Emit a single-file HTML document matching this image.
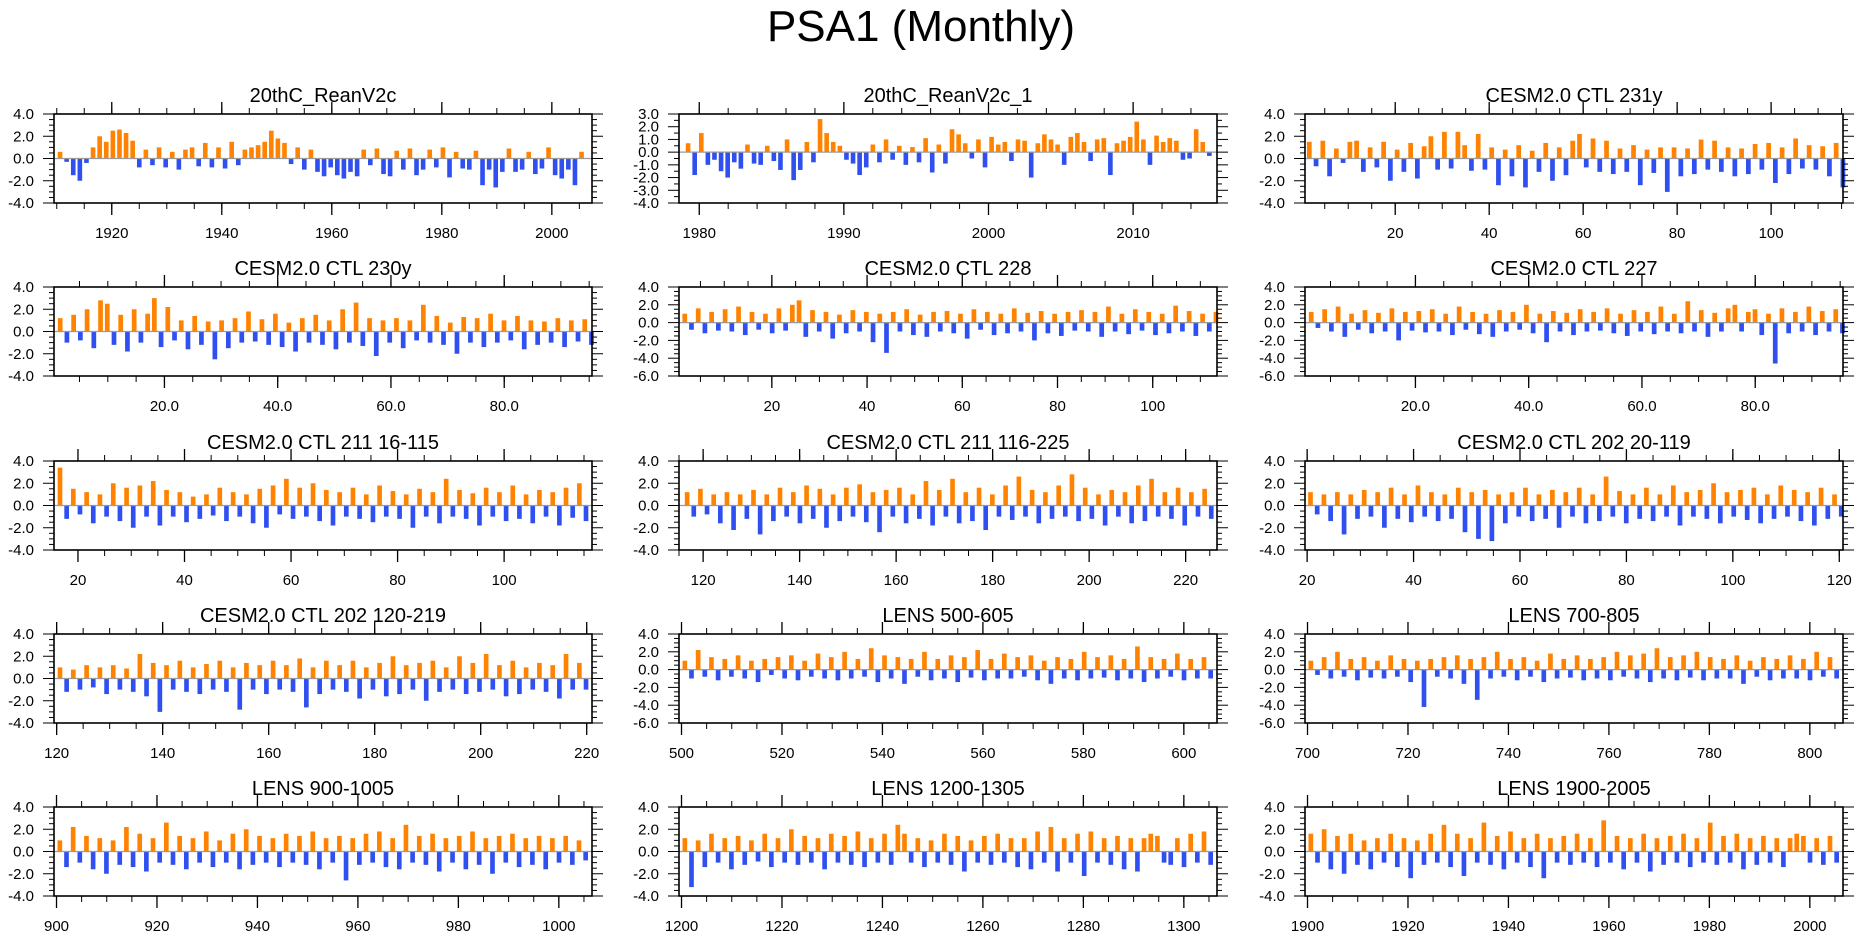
<!DOCTYPE html>
<html><head><meta charset="utf-8"><title>PSA1 (Monthly)</title>
<style>
html,body{margin:0;padding:0;background:#fff;}
svg{display:block;font-family:"Liberation Sans",Arial,sans-serif;}
</style></head>
<body>
<svg id="fig" width="1861" height="937" viewBox="0 0 1861 937" xmlns="http://www.w3.org/2000/svg">
<rect x="0" y="0" width="1861" height="937" fill="#fff"/>
<text x="921" y="41" font-size="44" text-anchor="middle" fill="#000">PSA1 (Monthly)</text>
</svg>
<script>
const titles = ["20thC_ReanV2c","20thC_ReanV2c_1","CESM2.0 CTL 231y","CESM2.0 CTL 230y","CESM2.0 CTL 228","CESM2.0 CTL 227","CESM2.0 CTL 211 16-115","CESM2.0 CTL 211 116-225","CESM2.0 CTL 202 20-119","CESM2.0 CTL 202 120-219","LENS 500-605","LENS 700-805","LENS 900-1005","LENS 1200-1305","LENS 1900-2005"];
const dataStart = [1910,1979,1,1,1,1,16,116,20,120,500,700,900,1200,1900];
const dataEnd   = [2006,2015.5,116,96,114,96,116,226,121,220.5,606,806,1006,1306,2006];
const xTickMajor = [[1920,1940,1960,1980,2000],[1980,1990,2000,2010],[20,40,60,80,100],[20,40,60,80],[20,40,60,80,100],[20,40,60,80],[20,40,60,80,100],[120,140,160,180,200,220],[20,40,60,80,100,120],[120,140,160,180,200,220],[500,520,540,560,580,600],[700,720,740,760,780,800],[900,920,940,960,980,1000],[1200,1220,1240,1260,1280,1300],[1900,1920,1940,1960,1980,2000]];
const xTickLabels = [["1920","1940","1960","1980","2000"],["1980","1990","2000","2010"],["20","40","60","80","100"],["20.0","40.0","60.0","80.0"],["20","40","60","80","100"],["20.0","40.0","60.0","80.0"],["20","40","60","80","100"],["120","140","160","180","200","220"],["20","40","60","80","100","120"],["120","140","160","180","200","220"],["500","520","540","560","580","600"],["700","720","740","760","780","800"],["900","920","940","960","980","1000"],["1200","1220","1240","1260","1280","1300"],["1900","1920","1940","1960","1980","2000"]];
const yMin = [-4,-4,-4,-4,-6,-6,-4,-4,-4,-4,-6,-6,-4,-4,-4];
const yMax = [4,3,4,4,4,4,4,4,4,4,4,4,4,4,4];
const yStep = [2,1,2,2,2,2,2,2,2,2,2,2,2,2,2];

const v1=[0.6,-0.3,-1.5,-2.0,-0.4,1.0,2.0,1.5,2.5,2.6,2.3,1.6,-0.8,0.8,-0.6,1.0,-0.8,0.6,-1.0,0.8,1.0,-0.7,1.4,-0.8,1.0,-0.9,1.5,-0.6,0.8,1.0,1.2,1.5,2.5,1.8,1.4,-0.5,1.0,-1.0,0.8,-1.2,-1.6,-0.8,-1.5,-1.8,-1.2,-1.6,0.8,-0.6,0.9,-1.4,-1.6,0.7,-1.0,0.9,-1.5,-1.0,0.8,-0.8,1.0,-1.7,0.6,-0.9,-1.0,0.7,-2.4,-1.0,-2.6,-1.2,0.9,-1.2,-1.0,0.6,-1.4,-0.9,1.0,-1.5,-1.8,-1.0,-2.4,0.6];
const v2=[0.7,-1.8,1.5,-1.0,-0.6,-1.5,-2.0,-0.8,-1.3,0.6,-0.9,-1.0,0.5,-0.7,-1.4,1.0,-2.2,-1.4,0.8,-0.8,2.6,1.5,0.8,0.5,-0.6,-0.9,-1.8,-1.2,0.6,-0.8,1.0,-0.6,0.5,-1.0,0.4,-0.8,1.1,-1.6,0.6,-0.9,1.8,1.4,0.7,-0.5,1.0,-1.2,1.2,0.6,0.8,-0.7,1.0,0.9,-2.0,0.7,1.4,1.0,0.6,-1.0,1.2,1.5,0.8,-0.7,1.0,1.1,-1.8,0.7,0.9,1.2,2.4,1.0,-1.0,1.3,0.8,1.1,0.9,-0.6,-0.5,1.8,0.8,-0.3];
const v3=[1.5,-0.7,1.6,-1.6,0.9,-0.4,1.5,1.6,-1.2,1.0,-0.8,1.5,-2.0,0.8,-1.2,1.4,-1.8,1.1,2.0,-1.0,2.4,-0.9,2.4,1.2,-1.1,2.2,-1.0,1.0,-2.4,0.8,-1.6,1.2,-2.6,0.7,-1.2,1.4,-2.0,1.0,-1.5,1.6,2.2,-0.8,1.8,-1.2,1.6,-1.4,0.9,-1.2,1.2,-2.4,0.8,-1.3,1.0,-3.0,1.0,-1.6,0.9,-1.4,1.7,-1.0,1.6,-1.2,1.0,-1.6,0.9,-1.4,1.3,-1.0,1.4,-2.2,1.0,-1.4,1.8,-0.9,1.2,-1.0,1.1,-1.6,1.4,-2.6];
const v4=[1.2,-1.0,1.5,-0.8,2.0,-1.5,2.8,2.5,-1.2,1.5,-1.8,2.0,-1.0,1.6,3.0,-1.4,2.2,-0.8,1.0,-1.6,1.4,-1.2,0.9,-2.5,1.0,-1.5,1.2,-1.0,1.8,-0.9,1.1,-1.2,1.6,-1.4,0.8,-1.8,1.2,-1.0,1.5,-1.2,1.0,-1.6,2.0,-1.0,2.6,-1.3,1.2,-2.2,1.0,-1.0,1.2,-1.5,1.0,-0.8,2.4,-1.0,1.4,-1.2,0.8,-2.0,1.3,-1.0,1.2,-1.4,1.6,-1.0,1.0,-0.8,1.4,-1.6,1.0,-1.2,0.9,-1.0,1.2,-1.4,1.0,-0.9,1.1,-1.2];
const v5=[1.0,-0.8,1.6,-1.2,1.2,-0.9,1.5,-1.0,1.8,-1.4,1.2,-0.8,1.0,-1.2,1.6,-0.9,2.0,2.5,-1.6,1.4,-1.0,1.2,-1.8,0.9,-1.2,1.4,-1.0,1.2,-2.2,1.0,-3.4,1.2,-1.0,1.5,-1.4,0.9,-1.6,1.2,-1.0,1.3,-1.2,1.0,-1.8,1.5,-0.8,1.2,-1.4,1.0,-1.2,1.6,-1.0,1.1,-2.0,1.3,-1.2,1.0,-1.5,1.2,-0.9,1.4,-1.0,1.2,-1.6,1.8,-1.0,1.0,-1.3,1.5,-0.9,1.2,-1.4,1.0,-1.2,1.9,-1.0,1.3,-1.5,1.0,-1.0,1.2];
const v6=[1.2,-0.6,1.5,-1.0,1.8,-1.6,1.0,-0.8,1.4,-1.2,1.1,-1.0,1.6,-2.0,1.2,-0.9,1.3,-1.1,1.5,-1.0,1.0,-1.4,1.8,-0.8,1.2,-1.3,1.0,-1.6,1.4,-1.0,1.2,-0.8,2.0,-1.2,1.0,-2.2,1.3,-1.0,1.1,-1.4,1.5,-1.0,1.2,-0.9,1.6,-1.2,1.0,-1.5,1.4,-1.0,1.2,-1.3,1.8,-1.0,1.0,-1.2,2.4,-1.0,1.4,-1.6,1.1,-1.0,1.6,2.0,-1.0,1.2,1.5,-1.4,1.0,-4.6,1.6,-1.2,1.2,-1.0,1.8,-1.4,1.3,-1.0,1.5,-1.2];
const v7=[3.4,-1.2,1.5,-0.8,1.2,-1.6,1.0,-1.0,2.0,-1.4,1.6,-2.0,1.8,-1.0,2.2,-1.8,1.4,-1.0,1.2,-1.5,0.8,-1.2,1.0,-0.9,1.6,-1.4,1.2,-1.0,1.0,-1.6,1.5,-2.0,1.8,-0.8,2.4,-1.2,1.6,-1.0,2.0,-1.4,1.4,-1.8,1.2,-1.0,1.6,-1.2,1.0,-1.5,1.8,-1.0,1.3,-1.2,1.0,-2.0,1.5,-1.0,1.2,-1.6,2.4,-1.0,1.4,-1.2,1.1,-1.8,1.6,-1.0,1.2,-1.4,1.8,-1.2,1.0,-1.6,1.4,-1.0,1.2,-1.8,1.6,-1.1,2.0,-1.4];
const v8=[1.2,-1.0,1.5,-0.8,1.0,-1.6,1.2,-2.2,1.0,-1.2,1.4,-2.6,1.0,-1.4,1.6,-1.0,1.2,-1.6,1.8,-1.2,1.5,-2.0,1.0,-1.4,1.6,-1.0,1.9,-1.5,1.2,-2.4,1.4,-1.0,1.6,-1.6,1.0,-1.2,2.2,-1.8,1.4,-1.0,2.4,-1.6,1.2,-1.4,1.6,-2.2,1.0,-1.0,1.8,-1.3,2.6,-1.0,1.4,-1.6,1.2,-1.2,1.8,-1.0,2.8,-1.4,1.6,-1.2,1.0,-1.8,1.4,-1.0,1.2,-1.6,1.8,-1.4,2.4,-1.0,1.2,-1.2,1.6,-1.8,1.2,-1.0,1.5,-1.2];
const v9=[1.2,-0.8,1.0,-1.4,1.2,-2.6,1.0,-1.2,1.4,-1.0,1.2,-2.0,1.6,-1.2,1.0,-1.5,1.8,-1.0,1.2,-1.4,1.0,-1.2,1.6,-2.4,1.2,-3.0,1.4,-3.2,1.0,-1.6,1.2,-1.0,1.6,-1.4,1.0,-1.2,1.4,-2.0,1.2,-1.0,1.6,-1.6,1.0,-1.4,2.6,-1.0,1.3,-1.6,1.0,-1.2,1.6,-1.4,1.0,-1.0,1.8,-1.8,1.2,-1.0,1.4,-1.2,2.0,-1.6,1.2,-1.0,1.4,-1.3,1.6,-1.6,1.0,-1.2,1.8,-1.0,1.4,-1.4,1.2,-1.8,1.6,-1.2,1.0,-1.0];
const v10=[1.0,-1.2,0.8,-1.0,1.2,-0.8,1.0,-1.4,1.2,-1.0,0.9,-1.2,2.2,-1.6,1.4,-3.0,1.2,-1.0,1.6,-1.2,1.0,-1.4,1.3,-1.0,1.6,-1.2,1.0,-2.8,1.4,-1.0,1.2,-1.4,1.6,-1.0,1.2,-1.2,1.8,-2.6,1.0,-1.4,1.6,-1.0,1.2,-1.2,1.6,-1.8,1.0,-1.0,1.4,-1.6,2.0,-1.4,1.2,-1.0,1.4,-2.0,1.6,-1.2,1.0,-1.0,2.0,-1.4,1.4,-1.2,2.2,-1.0,1.2,-1.6,1.6,-1.4,1.0,-1.0,1.4,-1.2,1.2,-1.8,2.2,-1.0,1.4,-1.0];
const v11=[1.0,-1.0,2.2,-0.8,1.4,-1.2,1.2,-0.8,1.6,-1.0,1.0,-1.4,1.2,-0.6,1.4,-1.0,1.6,-1.2,1.0,-0.8,1.8,-1.0,1.4,-1.2,2.0,-1.0,1.2,-0.8,2.4,-1.4,1.6,-1.0,1.4,-1.6,1.2,-0.8,2.0,-1.2,1.2,-1.0,1.6,-1.4,1.4,-0.9,2.2,-1.2,1.2,-1.0,1.8,-1.0,1.4,-0.8,1.6,-1.2,1.0,-1.6,1.4,-1.0,1.2,-1.2,2.0,-1.0,1.4,-0.9,1.6,-1.2,1.2,-1.0,2.6,-1.4,1.4,-1.0,1.2,-0.8,1.8,-1.2,1.2,-1.0,1.4,-1.0];
const v12=[1.0,-0.6,1.4,-1.0,2.0,-0.8,1.2,-1.2,1.4,-0.9,1.0,-1.0,1.6,-0.8,1.2,-1.4,1.0,-4.2,1.2,-0.8,1.4,-1.0,1.6,-1.6,1.2,-3.4,1.4,-1.0,2.0,-0.8,1.2,-1.2,1.4,-0.8,1.0,-1.4,1.8,-1.0,1.2,-0.9,1.6,-1.2,1.2,-1.0,1.4,-1.2,2.0,-0.8,1.6,-1.0,1.8,-1.4,2.4,-1.0,1.4,-1.2,1.6,-0.9,2.0,-1.2,1.4,-1.0,1.2,-1.0,1.6,-1.6,1.0,-0.8,1.4,-1.2,1.2,-1.0,1.6,-1.0,1.2,-1.2,2.0,-0.8,1.4,-1.0];
const v13=[1.0,-1.4,2.2,-1.0,1.4,-1.6,1.2,-2.0,1.0,-1.2,2.2,-1.4,1.6,-1.8,1.2,-1.0,2.6,-1.2,1.4,-1.6,1.2,-1.0,1.8,-1.4,1.0,-1.0,1.6,-1.6,2.0,-1.2,1.4,-1.0,1.2,-1.4,1.6,-1.0,1.4,-1.2,1.8,-1.6,1.2,-1.0,1.4,-2.6,1.2,-1.2,1.6,-1.0,1.8,-1.4,1.2,-1.6,2.4,-1.0,1.4,-1.2,1.6,-1.8,1.2,-1.0,1.4,-1.6,1.8,-1.2,1.2,-2.0,1.4,-1.0,1.6,-1.4,1.2,-1.2,1.4,-1.6,1.2,-1.0,1.4,-1.2,1.0,-0.8];
const v14=[1.2,-3.2,1.0,-1.4,1.6,-1.0,1.2,-1.6,1.4,-1.2,1.0,-0.9,1.6,-1.4,1.2,-1.0,2.0,-1.2,1.4,-1.0,1.2,-1.6,1.6,-1.0,1.4,-1.2,1.8,-1.4,1.2,-1.0,1.6,-1.2,2.4,1.6,-1.0,1.2,-1.4,1.0,-1.0,1.6,-1.2,1.4,-1.8,1.0,-1.0,1.4,-1.2,1.6,-1.0,1.2,-1.4,1.2,-1.6,1.8,-1.0,2.2,-1.8,1.2,-1.0,1.6,-2.2,1.8,-1.0,1.2,-1.2,1.4,-1.6,1.2,-1.8,1.2,1.6,1.4,-1.0,-1.2,1.2,-1.4,1.6,-1.0,1.8,-1.2];
const v15=[1.6,-1.0,2.0,-1.6,1.4,-2.0,1.6,-1.2,1.0,-1.6,1.2,-1.0,1.6,-1.4,1.2,-2.4,1.0,-1.2,1.6,-1.0,2.4,-1.4,1.6,-2.2,1.2,-1.0,2.6,-1.2,1.4,-1.6,1.8,-1.0,1.2,-1.4,1.6,-2.4,1.2,-1.0,1.4,-1.2,1.6,-1.0,1.2,-1.4,2.8,-1.0,1.4,-1.6,1.2,-1.0,1.6,-1.8,1.2,-1.2,1.4,-1.0,1.6,-1.4,1.2,-1.0,2.6,-1.2,1.4,-1.0,1.6,-1.6,1.2,-1.2,1.4,-1.0,1.2,-1.4,1.2,1.6,1.4,-1.0,1.2,-1.2,1.4,-1.0];
const seriesValues=[v1,v2,v3,v4,v5,v6,v7,v8,v9,v10,v11,v12,v13,v14,v15];

// layout (not data)
const colLeft=[54,679,1305], boxW=538, rowTop=[114,287,461,634,807], boxH=89;
const axisMin=[1909.5,1978.6,0.8,0.5,0.5,0.5,15.5,115,19.6,119.5,499.5,699.5,899.5,1199.5,1899.5];
const axisMax=[2007.3,2015.8,115.3,95.5,113.5,95.5,116.5,226.5,120.7,221,606.6,806.6,1006.6,1306.6,2006.6];
const minorStep=[5,2,5,5,5,5,5,5,5,5,5,5,5,5,5];

const NS="http://www.w3.org/2000/svg";
const svg=document.getElementById('fig');
function mk(tag,attrs,parent){const e=document.createElementNS(NS,tag);for(const k in attrs)e.setAttribute(k,attrs[k]);(parent||svg).appendChild(e);return e;}

for(let p=0;p<15;p++){
  const L=colLeft[p%3], T=rowTop[Math.floor(p/3)], R=L+boxW, B=T+boxH;
  const g=mk('g',{});
  
  
  const xs=v=>L+(v-axisMin[p])/(axisMax[p]-axisMin[p])*boxW;
  const ys=v=>B-(v-yMin[p])/(yMax[p]-yMin[p])*boxH;
  const t=mk('text',{x:(L+R)/2,y:T-12,'font-size':20,'text-anchor':'middle',fill:'#000'},g);
  t.textContent=titles[p];
  
  
  const vals=seriesValues[p], n=vals.length;
  const dx=(dataEnd[p]-dataStart[p])/n;
  const bw=Math.max(1.5,(xs(dataStart[p]+dx)-xs(dataStart[p]))*0.7);
  const bars=mk('g',{},g);
  
  
  for(let i=0;i<n;i++){
    const v=vals[i], cx=xs(dataStart[p]+(i+0.5)*dx), y0=ys(0), y1=ys(v);
    const r=mk('rect',{x:(cx-bw/2).toFixed(2),y:Math.min(y0,y1).toFixed(2),width:bw.toFixed(2),height:Math.abs(y1-y0).toFixed(2),fill:v>=0?'#ff8300':'#2f4ff0'},bars);
    
    
  }
  const z=mk('line',{x1:L,x2:R,y1:ys(0),y2:ys(0),stroke:'#9a9a9a','stroke-width':1.2},g);
  
  
  for(let v=yMin[p];v<=yMax[p]+1e-9;v+=0.5){
    const y=ys(v), major=Math.abs(v/yStep[p]-Math.round(v/yStep[p]))<1e-6;
    const len=major?11:5;
    mk('line',{x1:L-len,x2:L,y1:y,y2:y,stroke:'#000','stroke-width':1},g);
    mk('line',{x1:R,x2:R+len,y1:y,y2:y,stroke:'#000','stroke-width':1},g);
    if(major){
      const lb=mk('text',{x:L-20,y:y+5,'font-size':15,'text-anchor':'end',fill:'#000'},g);
      lb.textContent=v.toFixed(1);
      
      
    }
  }
  const ms=minorStep[p];
  for(let v=Math.ceil(axisMin[p]/ms)*ms;v<=axisMax[p];v+=ms){
    const x=xs(v);
    mk('line',{x1:x,x2:x,y1:B,y2:B+6,stroke:'#000','stroke-width':1},g);
    mk('line',{x1:x,x2:x,y1:T-6,y2:T,stroke:'#000','stroke-width':1},g);
  }
  xTickMajor[p].forEach((v,i)=>{
    const x=xs(v);
    mk('line',{x1:x,x2:x,y1:B,y2:B+12,stroke:'#000','stroke-width':1.3},g);
    mk('line',{x1:x,x2:x,y1:T-12,y2:T,stroke:'#000','stroke-width':1.3},g);
    const lb=mk('text',{x:x,y:B+35,'font-size':15,'text-anchor':'middle',fill:'#000'},g);
    lb.textContent=xTickLabels[p][i];
    
    
  });
  const fr=mk('rect',{x:L,y:T,width:boxW,height:boxH,fill:'none',stroke:'#000','stroke-width':1.6},g);
  
  
}
</script>
</body></html>
